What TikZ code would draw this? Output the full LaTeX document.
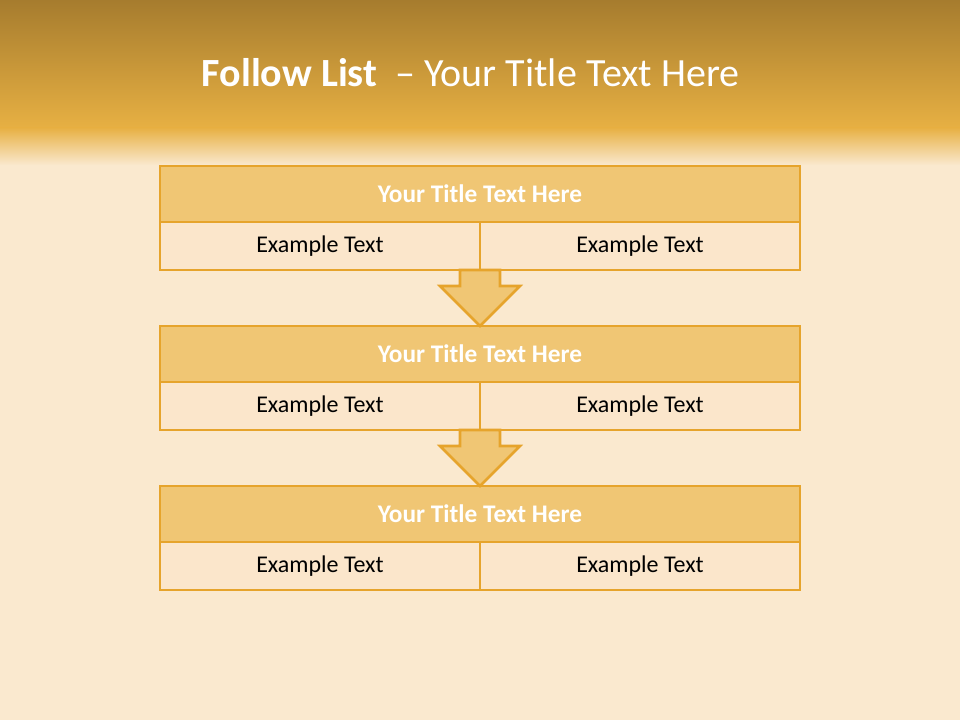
\documentclass[tikz,border=0pt]{standalone}
\usepackage{fontspec}
\setmainfont{Carlito}
\usetikzlibrary{positioning, calc}
\definecolor{doradoOscuro}{HTML}{A67C2E}
\definecolor{doradoClaro}{HTML}{E7B043}
\definecolor{crema}{HTML}{FAE9CF}
\definecolor{bordeOro}{HTML}{E6A42C}
\definecolor{fondoTitulo}{HTML}{F0C674}
\definecolor{fondoCelda}{HTML}{FBE6CB}

\begin{document}
\begin{tikzpicture}[font=\fontsize{18pt}{21pt}\selectfont, node distance=78pt,
        ttl/.style={draw=bordeOro, fill=fondoTitulo, line width=2pt, text=white,
            font=\fontsize{19pt}{22pt}\selectfont\bfseries, outer sep=0pt,
            minimum width=480pt, minimum height=42pt, inner sep=0pt},
        celda/.style={draw=bordeOro, fill=fondoCelda, line width=2pt, outer sep=0pt,
            minimum width=240pt, minimum height=36pt, inner sep=0pt},
        flecha/.style={draw=bordeOro, fill=fondoTitulo, line width=2pt, line join=miter}]
        % fondo
        \useasboundingbox (0,0) rectangle (720pt,540pt);
        \fill[crema] (0,0) rectangle (720pt,540pt);
        \shade[top color=doradoOscuro, bottom color=doradoClaro] (0,444pt) rectangle (720pt,540pt);
        \shade[top color=doradoClaro, bottom color=crema] (0,416pt) rectangle (720pt,444.2pt);
        \node[anchor=base, text=white, font=\fontsize{30pt}{34pt}\selectfont] (titulo) at (353pt,474.75pt)
            {\textbf{Follow List}\ \ – Your Title Text Here};
        % cajas
        \node[ttl] (t1) at (360pt,394.5pt) {Your Title Text Here};
        \node[celda, below right=0pt of t1.south west] (a1) {Example Text};
        \node[celda, below left=0pt of t1.south east] (b1) {Example Text};
        \node[ttl, below=of t1] (t2) {Your Title Text Here};
        \node[celda, below right=0pt of t2.south west] (a2) {Example Text};
        \node[celda, below left=0pt of t2.south east] (b2) {Example Text};
        \node[ttl, below=of t2] (t3) {Your Title Text Here};
        \node[celda, below right=0pt of t3.south west] (a3) {Example Text};
        \node[celda, below left=0pt of t3.south east] (b3) {Example Text};
        % flechas
        \foreach \de/\a in {a1/t2, a2/t3}{
            \draw[flecha] ([xshift=-15pt]\de.south east) -- ++(0,-12pt) -- ++(-15pt,0)
                -- (\a.north) -- ++(30pt,30pt) -- ++(-15pt,0)
                -- ([xshift=15pt]\de.south east) -- cycle;
        }
    \end{tikzpicture}
\end{document}
